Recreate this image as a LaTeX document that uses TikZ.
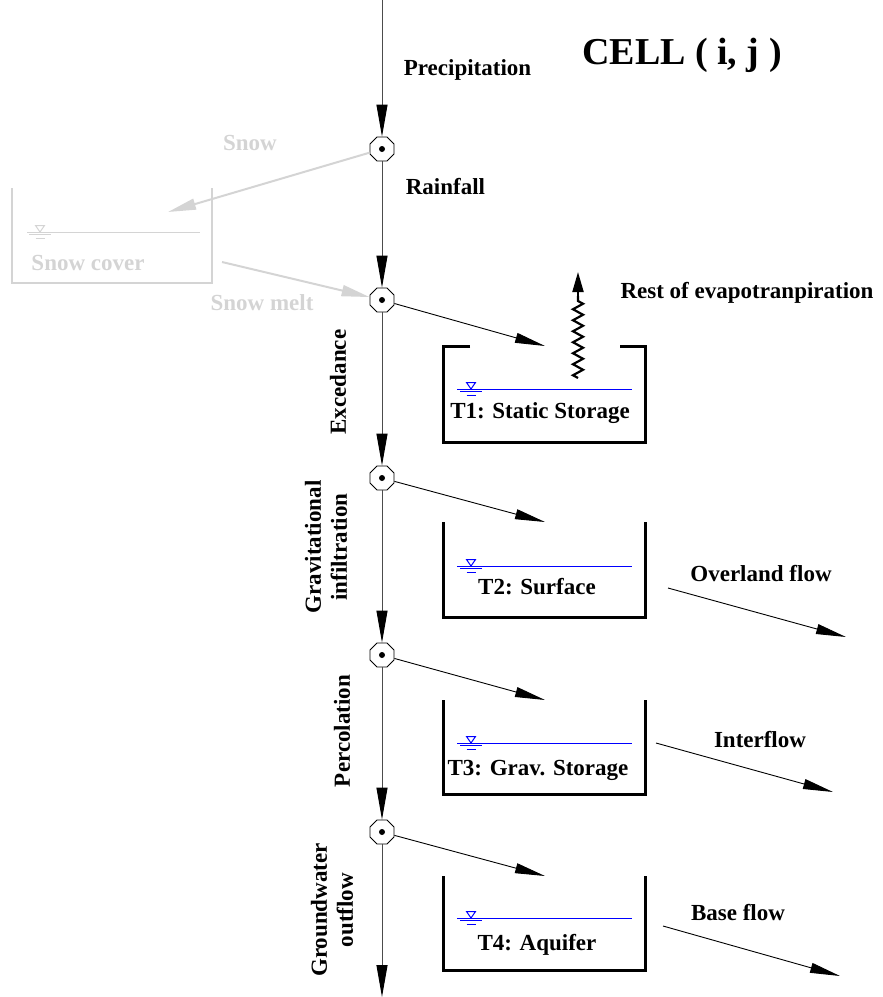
\documentclass[tikz,border=0pt]{standalone}
\usepackage{fontspec}
\setmainfont{Liberation Serif}
\usetikzlibrary{arrows.meta, shapes.geometric, decorations.pathmorphing}
\definecolor{snowgray}{gray}{0.83}
\begin{document}
\begin{tikzpicture}[x=1pt,y=-1pt,
  lbl/.style={font=\fontsize{23}{26}\selectfont\bfseries, inner sep=0pt, align=center},
  snowlbl/.style={lbl, text=snowgray},
  junc/.style={regular polygon, regular polygon sides=8, draw, fill=white, minimum size=26pt, inner sep=0pt, line width=0.8pt},
  mainflow/.style={draw=black!70, line width=1pt, -{Triangle[length=32pt,width=11pt,color=black]}},
  sideflow/.style={draw=black, line width=0.9pt, -{Triangle[length=30pt,width=10pt]}},
  snowflow/.style={draw=snowgray, line width=2pt, -{Triangle[length=28pt,width=11pt]}},
  tankwall/.style={line width=3pt, line join=miter},
  wline/.style={draw=blue, line width=1pt},
  wsym/.pic={
    \draw[line width=1pt] (-4.5,-6.5) -- (4.5,-6.5) -- (0,0) -- cycle;
    \draw[line width=1pt] (-11,2.5) -- (11,2.5);
    \draw[line width=1pt] (-4.5,6) -- (4.5,6);
  }
]
\useasboundingbox (0,0) rectangle (883,997);

% junctions
\node[junc] (j1) at (382,149) {};
\node[junc] (j2) at (382,300) {};
\node[junc] (j3) at (382,478) {};
\node[junc] (j4) at (382,655) {};
\node[junc] (j5) at (382,832) {};
\foreach \j in {j1,j2,j3,j4,j5} \fill (\j) circle (3);

\coordinate (top) at (382,0);
\coordinate (bot) at (382,997);

% main vertical flow
\draw[mainflow] (top) -- (j1);
\draw[mainflow] (j1) -- (j2);
\draw[mainflow] (j2) -- (j3);
\draw[mainflow] (j3) -- (j4);
\draw[mainflow] (j4) -- (j5);
\draw[mainflow] (j5) -- (bot);

% title and labels
\node[font=\fontsize{38}{44}\selectfont\bfseries, inner sep=0pt] (title) at (682,55) {CELL ( i, j )};
\node[lbl] (precip) at (467.5,70) {Precipitation};
\node[lbl] (rain) at (445.5,187) {Rainfall};
\node[lbl, rotate=90] (exc) at (338,382) {Excedance};
\node[lbl, rotate=90] (grav) at (326,547) {Gravitational\\infiltration};
\node[lbl, rotate=90] (perc) at (342,731) {Percolation};
\node[lbl, rotate=90] (gwo) at (332,910) {Groundwater\\outflow};

% snow part
\draw[snowgray, tankwall, line width=2.5pt] (12,188) -- (12,283) -- (212,283) -- (212,188);
\draw[snowgray, line width=1pt] (27,232) -- (200,232);
\pic[snowgray] at (40,232) {wsym};
\node[snowlbl] (snowcov) at (88,263) {Snow cover};
\node[snowlbl] (snow) at (250,143) {Snow};
\node[snowlbl] (snowmelt) at (262,303) {Snow melt};
\coordinate (snowin) at (168,212);
\coordinate (snowout) at (222,262);
\draw[snowflow] (j1) -- (snowin);
\draw[snowflow] (snowout) -- (j2);

% tank T1
\draw[tankwall] (470,346) -- (443,346) -- (443,442) -- (645,442) -- (645,346) -- (620,346);
\draw[wline] (457,389) -- (632,389);
\pic[blue] at (471,389) {wsym};
\node[lbl] (t1) at (540,413) {T1: Static Storage};
\coordinate (t1in) at (545,346);
\draw[sideflow] (j2) -- (t1in);
% evapotranspiration
\coordinate (evb) at (578,378);
\coordinate (evm) at (578,296);
\coordinate (evt) at (578,272);
\draw[line width=2.2pt, line join=miter, decorate, decoration={zigzag, segment length=11pt, amplitude=5pt}] (evb) -- (evm);
\draw[line width=2pt, -{Triangle[length=20pt,width=11pt]}] (evm) -- (evt);
\node[lbl] (evap) at (747,293) {Rest of evapotranpiration};

% tank T2
\draw[tankwall] (443,522) -- (443,617) -- (645,617) -- (645,522);
\draw[wline] (457,566) -- (632,566);
\pic[blue] at (471,566) {wsym};
\node[lbl] (t2) at (537,587) {T2: Surface};
\coordinate (t2in) at (545,522);
\draw[sideflow] (j3) -- (t2in);
\coordinate (ovs) at (668,588);
\coordinate (ove) at (846,637);
\draw[sideflow] (ovs) -- (ove);
\node[lbl] (over) at (761,574) {Overland flow};

% tank T3
\draw[tankwall] (443,700) -- (443,794) -- (645,794) -- (645,700);
\draw[wline] (457,743) -- (632,743);
\pic[blue] at (471,743) {wsym};
\node[lbl] (t3) at (538,770) {T3: Grav. Storage};
\coordinate (t3in) at (545,700);
\draw[sideflow] (j4) -- (t3in);
\coordinate (ins) at (656,743);
\coordinate (ine) at (833,792);
\draw[sideflow] (ins) -- (ine);
\node[lbl] (inter) at (760,740) {Interflow};

% tank T4
\draw[tankwall] (443,876) -- (443,970) -- (645,970) -- (645,876);
\draw[wline] (457,918) -- (632,918);
\pic[blue] at (471,918) {wsym};
\node[lbl] (t4) at (537,945) {T4: Aquifer};
\coordinate (t4in) at (545,876);
\draw[sideflow] (j5) -- (t4in);
\coordinate (bas) at (663,926);
\coordinate (bae) at (840,976);
\draw[sideflow] (bas) -- (bae);
\node[lbl] (base) at (738,913) {Base flow};
\end{tikzpicture}
\end{document}
